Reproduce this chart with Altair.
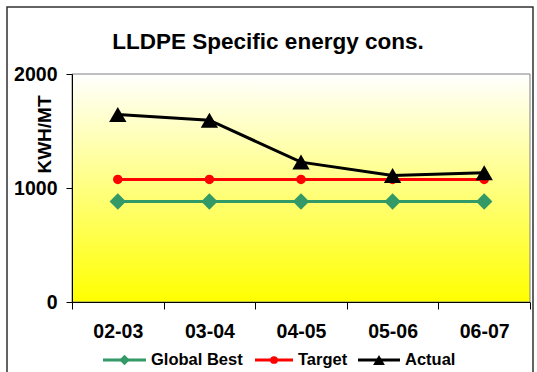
import altair as alt
import pandas as pd

years = ["02-03", "03-04", "04-05", "05-06", "06-07"]
series_names = ["Global Best", "Target", "Actual"]
global_best = [882, 882, 882, 882, 882]
target = [1075, 1075, 1075, 1075, 1075]
actual = [1645, 1595, 1227, 1110, 1134]
colors = ["#339966", "#FF0000", "#000000"]
shapes = ["diamond", "circle", "triangle-up"]
title_text = "LLDPE Specific energy cons."

# styling / layout (not data)
sizes = [270, 90, 300]
legend_sizes = [110, 60, 140]
legend_x = [31, 183, 286]      # left edge of each legend entry, relative to plot
legend_len = [43, 38, 42]
legend_y = 286

rows = []
for name, vals in zip(series_names, [global_best, target, actual]):
    for y, v in zip(years, vals):
        rows.append({"year": y, "series": name, "value": v})
df = pd.DataFrame(rows)

W, H = 458, 228
FONT = "Liberation Sans"

xenc = alt.X("year:N", sort=years, bandPosition=0.5,
             scale=alt.Scale(type="band", paddingInner=0, paddingOuter=0),
             axis=alt.Axis(title=None, tickBand="extent", labelAngle=0,
                           labelFontSize=19.5, labelFontWeight="bold",
                           labelPadding=13, tickSize=7, zindex=1))
yenc = alt.Y("value:Q", scale=alt.Scale(domain=[0, 2000]),
             axis=alt.Axis(title="KWH/MT", values=[0, 1000, 2000], grid=False, format="d",
                           labelFontSize=19.5, labelFontWeight="bold",
                           labelPadding=9, tickSize=6, zindex=1,
                           titleFontSize=19, titleFontWeight="bold",
                           titleAngle=270, titleX=-22, titleY=60,
                           titleAlign="center", titleBaseline="alphabetic"))

one = pd.DataFrame({"a": [0]})

bg = alt.Chart(one).mark_rect(
    fill=alt.Gradient(gradient="linear",
                      stops=[alt.GradientStop(color="#FFFFFF", offset=0),
                             alt.GradientStop(color="#FFFF00", offset=1)],
                      x1=0, x2=0, y1=0, y2=1),
    stroke="#808080", strokeWidth=1,
).encode(x=alt.value(0), x2=alt.value(W), y=alt.value(0), y2=alt.value(H))

frame = alt.Chart(one).mark_rect(
    fill=None, stroke="#303030", strokeWidth=1.5, clip=False
).encode(x=alt.value(-65), x2=alt.value(W + 3), y=alt.value(-67), y2=alt.value(H + 90))

title = alt.Chart(pd.DataFrame({"t": [title_text]})).mark_text(
    fontSize=22.5, fontWeight="bold", font=FONT, align="center", baseline="alphabetic", color="black"
).encode(text="t:N", x=alt.value(196), y=alt.value(-25))

lines = alt.Chart(df).mark_line(strokeWidth=3).encode(
    x=xenc, y=yenc,
    color=alt.Color("series:N", scale=alt.Scale(domain=series_names, range=colors), legend=None),
    order=alt.Order("year:N"),
)

point_layers = []
for name, col, shp, sz in zip(series_names, colors, shapes, sizes):
    point_layers.append(
        alt.Chart(df).transform_filter(alt.datum.series == name).mark_point(
            filled=True, opacity=1, shape=shp, size=sz, color=col
        ).encode(x=xenc, y=yenc)
    )

# legend drawn from the series lists
legend_layers = []
for name, col, shp, lsz, lx, ll in zip(series_names, colors, shapes, legend_sizes, legend_x, legend_len):
    item = pd.DataFrame({"series": [name]})
    legend_layers.append(alt.Chart(item).mark_rule(strokeWidth=3, color=col, clip=False).encode(
        x=alt.value(lx), x2=alt.value(lx + ll), y=alt.value(legend_y)))
    legend_layers.append(alt.Chart(item).mark_point(
        filled=True, opacity=1, shape=shp, size=lsz, color=col, clip=False
    ).encode(x=alt.value(lx + ll / 2), y=alt.value(legend_y)))
    legend_layers.append(alt.Chart(item).mark_text(
        fontSize=16.5, fontWeight="bold", font=FONT, align="left", baseline="middle",
        color="black", clip=False
    ).encode(text="series:N", x=alt.value(lx + ll + 5), y=alt.value(legend_y)))

chart = alt.layer(frame, bg, lines, *point_layers, *legend_layers, title).properties(
    width=W, height=H,
    autosize=alt.AutoSizeParams(type="none"),
    padding={"left": 72, "top": 74, "right": 7, "bottom": 70},
).configure(font=FONT).configure_view(stroke=None).configure_axis(
    domainColor="black", tickColor="black", labelColor="black", titleColor="black",
    labelFont=FONT, titleFont=FONT, domainWidth=1,
)

chart.save("out.html", embed_options={"renderer": "svg", "actions": False})
